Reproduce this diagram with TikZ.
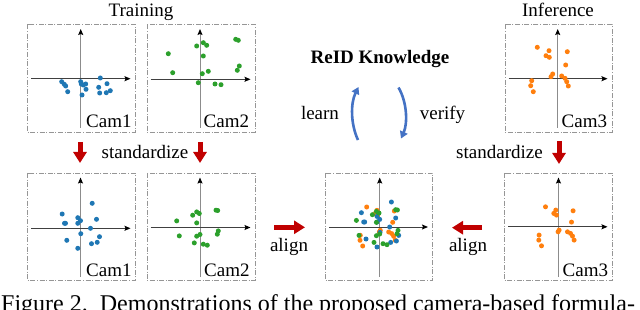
\documentclass[tikz,border=0pt]{standalone}
\usepackage{fontspec}
\setmainfont{Liberation Serif}
\usetikzlibrary{arrows.meta}
\definecolor{tabblue}{RGB}{31,119,180}
\definecolor{taborange}{RGB}{255,127,14}
\definecolor{tabgreen}{RGB}{44,160,44}
\definecolor{darkred}{RGB}{192,0,0}
\definecolor{arcblue}{RGB}{68,114,196}
\definecolor{boxgray}{RGB}{150,150,150}
% #1 left #2 top #3 right #4 bottom #5 ox #6 oy #7 name
\newcommand\drawpanel[7]{%
  \draw[panelbox] (#1,#2) rectangle (#3,#4);
  \coordinate (#7) at (#5,#6);
  \draw[vaxis] (#5,#4-4) -- (#5,#2+4.5);
  \draw[haxis] (#1+3.5,#6) -- (#3-4.5,#6);
}
\newcommand\plotdots[3]{%
  \begin{scope}[shift={(#1)}]
    \foreach \p in #2 {\fill[#3] \p circle[radius=2.5pt];}
  \end{scope}}
\def\bluetop{(-19,3),(-16.4,5.6),(-15,7.3),(-13,13),(0.6,5.3),(2.6,6.3),(5,5.3),(5.3,10.6),(1.3,16.3),(19.6,-0.7),(18,8.6),(19,14.3),(26.3,5),(25.6,14),(29.6,12),(0,3)}
\def\greentop{(-31.7,-25.6),(-27.3,-6.6),(-3.3,-33.3),(3.3,-36.6),(6.7,-34),(3.3,-23.3),(8.3,-8),(2.3,-5.6),(-1.7,3.4),(15,4.7),(21,5.4),(35.7,-40),(38.3,-39),(39.3,-13.3),(37.3,-9)}
\def\orangetop{(-20.4,-31.4),(-8.7,-28),(-11.7,-23),(-8.4,-21.4),(9.6,-27),(8,-13.7),(-5,-4.7),(-6.7,-2),(4,-2.7),(7.3,-0.4),(9,3),(10.6,7.3),(-26,2),(-27,7),(-24.4,13)}
\def\bluebot{(11.7,-25),(-18.3,-14.3),(-16,-5),(-15,-5),(-2.7,-10.6),(0,-7.6),(-2.7,-5),(16,-9),(0.3,5.4),(10,0),(-13.7,12),(19,8.4),(16.7,14),(11,15.4),(-2.7,20)}
\def\greenbot{(-23.3,-6.6),(-20.7,8.4),(-7.3,-12.3),(-3.3,-15.6),(-0.7,-14),(-3.3,-4.6),(0,7),(-3.3,8.7),(-5.7,15.4),(3.3,16.7),(7.3,17.7),(16,-17.3),(17.7,-17),(18.3,3.4),(17.3,6.7)}
\def\orangebot{(-13,-20),(-2.7,-16.7),(-4.7,-13.4),(-2,-11.7),(14.6,-16),(13,-4.7),(0.6,3.3),(-0.4,5),(9,5),(12,6.6),(14,9.3),(15.6,13.3),(-19.4,8.3),(-19.7,13.3),(-17,19)}
\begin{document}
\begin{tikzpicture}[x=1pt,y=-1pt,
  panelbox/.style={draw=boxgray, line width=0.9pt, dash pattern=on 5pt off 1.6pt on 1pt off 1.6pt},
  haxis/.style={draw=black!75, line width=1pt, -{Stealth[length=6pt,width=5pt,inset=1pt,color=black]}},
  vaxis/.style={draw=black!45, line width=1pt, -{Stealth[length=6pt,width=5pt,inset=1pt,color=black]}},
  lbl/.style={font=\fontsize{19}{22}\selectfont, inner sep=0pt},
  redarrow/.style={draw=darkred, line width=5pt, -{Triangle[length=11pt,width=13pt]}},
  cycarrow/.style={draw=arcblue, line width=2.6pt, -{Triangle[length=7pt,width=8pt]}},
]
\useasboundingbox (0,0) rectangle (640,310);
\clip (0,0) rectangle (640,310);

% panels
\drawpanel{27.5}{24.5}{135}{132}{80.7}{78.7}{o1}
\drawpanel{147}{24.5}{255}{132}{200}{79.3}{o2}
\drawpanel{505}{24.5}{612}{132}{557.7}{78.7}{o3}
\drawpanel{27.5}{173}{135}{280.5}{80.5}{228.3}{o4}
\drawpanel{147}{173}{255}{280.5}{200}{227.5}{o5}
\drawpanel{325.5}{173}{432.5}{280.5}{379.7}{227}{om}
\drawpanel{504.5}{173}{612}{280.5}{558.5}{226.8}{o6}

% dots
\plotdots{o1}{\bluetop}{tabblue}
\plotdots{o2}{\greentop}{tabgreen}
\plotdots{o3}{\orangetop}{taborange}
\plotdots{o4}{\bluebot}{tabblue}
\plotdots{o5}{\greenbot}{tabgreen}
\plotdots{o6}{\orangebot}{taborange}
\plotdots{om}{\orangebot}{taborange}
\plotdots{om}{\bluebot}{tabblue}
\plotdots{om}{\greenbot}{tabgreen}

% camera labels
\node[lbl, anchor=base west] (c1) at (86,128) {Cam1};
\node[lbl, anchor=base west] (c2) at (203.5,128) {Cam2};
\node[lbl, anchor=base west] (c3) at (561.5,127.5) {Cam3};
\node[lbl, anchor=base west] (c4) at (86,276) {Cam1};
\node[lbl, anchor=base west] (c5) at (204,276) {Cam2};
\node[lbl, anchor=base west] (c6) at (562.5,276) {Cam3};

% titles
\node[lbl, anchor=base] (train) at (141,16.5) {Training};
\node[lbl, anchor=base] (infer) at (558,16.5) {Inference};
\node[lbl, anchor=base, font=\fontsize{19}{22}\selectfont\bfseries] (know) at (380,64) {ReID Knowledge};
\node[lbl, anchor=base] (learn) at (320,120) {learn};
\node[lbl, anchor=base] (verify) at (442.5,120) {verify};
\node[lbl, anchor=base] (std1) at (145,158) {standardize};
\node[lbl, anchor=base] (std2) at (499.5,158) {standardize};
\node[lbl, anchor=base] (al1) at (289,251) {align};
\node[lbl, anchor=base] (al2) at (468,251) {align};

% red arrows
\coordinate (d1s) at (80,142); \coordinate (d1e) at (80,163);
\coordinate (d2s) at (200,142); \coordinate (d2e) at (200,163);
\coordinate (d3s) at (559,141); \coordinate (d3e) at (559,164);
\coordinate (r1s) at (274,227.3); \coordinate (r1e) at (305,227.3);
\coordinate (r2s) at (482,227.7); \coordinate (r2e) at (452,227.7);
\draw[redarrow] (d1s) -- (d1e);
\draw[redarrow] (d2s) -- (d2e);
\draw[redarrow] (d3s) -- (d3e);
\draw[redarrow] (r1s) -- (r1e);
\draw[redarrow] (r2s) -- (r2e);

% cycle arrows
\coordinate (la) at (358,140); \coordinate (lb) at (358.5,87);
\coordinate (ra) at (398.5,87.5); \coordinate (rb) at (401,138.5);
\draw[cycarrow] (la) .. controls (350.5,124) and (350.5,103) .. (lb);
\draw[cycarrow] (ra) .. controls (407.5,103) and (407.5,124) .. (rb);

% caption (cut off at the lower edge, as in the reference)
\node[anchor=base west, font=\fontsize{24}{28}\selectfont, inner sep=0pt] (cap) at (1,311) {Figure 2.\ \ Demonstrations of the proposed camera-based formula-};
\end{tikzpicture}
\end{document}
